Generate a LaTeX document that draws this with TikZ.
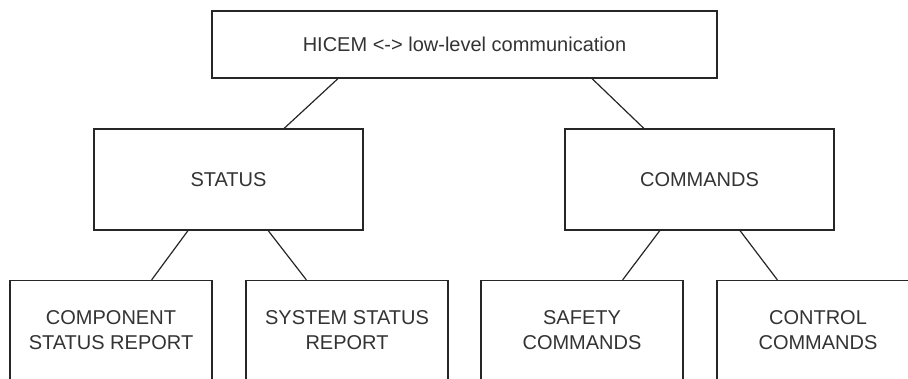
\documentclass[tikz,border=0pt]{standalone}
\usepackage{fontspec}
\setmainfont{Liberation Sans}
\usetikzlibrary{calc}

\tikzset{
    box/.style={draw=black!85, line width=1.3pt, fill=white, inner sep=0pt,
        align=center, text=black!80, font=\fontsize{20}{25}\selectfont},
    topbox/.style={box, minimum width=505pt, minimum height=67pt},
    groupbox/.style={box, minimum width=269pt, minimum height=101pt},
    leafbox/.style={box, minimum width=202pt, minimum height=100pt},
    link/.style={draw=black!85, line width=1.2pt}
}

\begin{document}
\begin{tikzpicture}[x=1pt, y=-1pt]
            \useasboundingbox (0,0) rectangle (908,378);
            \clip (0,0) rectangle (908,378);

            \node[topbox] (hicem) at (464.5,44.5) {HICEM <-> low-level communication};

            \node[groupbox] (status) at (228.5,179.5) {STATUS};
            \node[groupbox] (commands) at (699.5,179.5) {COMMANDS};

            \node[leafbox] (component) at (111,330.5) {COMPONENT\\STATUS REPORT};
            \node[leafbox] (system) at (347,330.5) {SYSTEM STATUS\\REPORT};
            \node[leafbox] (safety) at (582,330.5) {SAFETY\\COMMANDS};
            \node[leafbox] (control) at (818,330.5) {CONTROL\\COMMANDS};

            % tree links
            \draw[link] ($(hicem.south west)!0.25!(hicem.south east)$) -- ($(status.north west)!0.706!(status.north east)$);
            \draw[link] ($(hicem.south west)!0.752!(hicem.south east)$) -- ($(commands.north west)!0.294!(commands.north east)$);

            \draw[link] ($(status.south west)!0.35!(status.south east)$) -- ($(component.north west)!0.7!(component.north east)$);
            \draw[link] ($(status.south west)!0.647!(status.south east)$) -- ($(system.north west)!0.3!(system.north east)$);
            \draw[link] ($(commands.south west)!0.353!(commands.south east)$) -- ($(safety.north west)!0.7!(safety.north east)$);
            \draw[link] ($(commands.south west)!0.65!(commands.south east)$) -- ($(control.north west)!0.3!(control.north east)$);
        \end{tikzpicture}
\end{document}
